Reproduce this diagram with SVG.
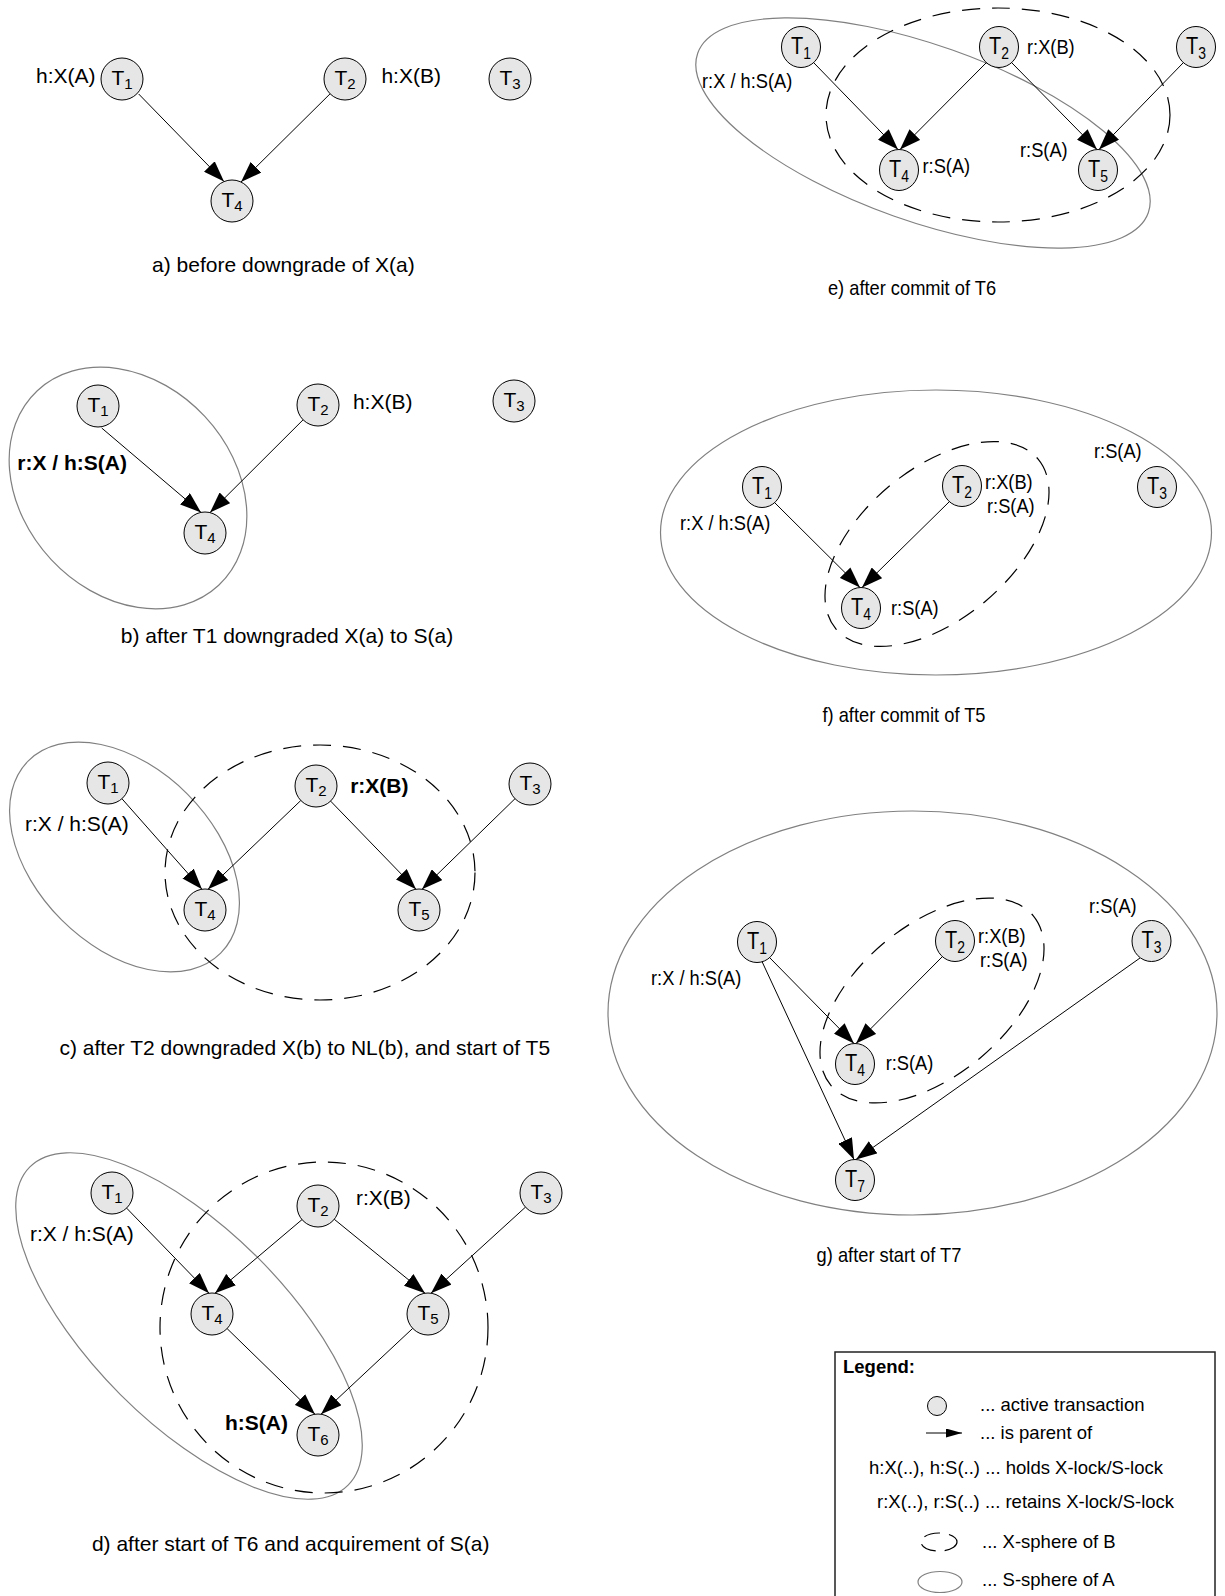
<svg xmlns="http://www.w3.org/2000/svg" width="1225" height="1596" viewBox="0 0 1225 1596">
<defs>
<marker id="ah" viewBox="0 0 21 15" refX="21" refY="7.5" markerWidth="21" markerHeight="15" markerUnits="userSpaceOnUse" orient="auto"><path d="M0,0 L21,7.5 L0,15 Z" fill="#000"/></marker>
<marker id="ahs" viewBox="0 0 16 9" refX="16" refY="4.5" markerWidth="16" markerHeight="9" markerUnits="userSpaceOnUse" orient="auto"><path d="M0,0 L16,4.5 L0,9 Z" fill="#000"/></marker>
</defs>
<style>
text{font-family:"Liberation Sans",Arial,sans-serif;fill:#000}
.lb{font-size:21px}
.bd{font-weight:bold}
.cap{font-size:21px;text-anchor:middle}
.t{font-size:21px;text-anchor:middle}
.tr{font-size:23px;text-anchor:middle}
.s{font-size:15px}
.sr{font-size:16px}
.n{fill:#e6e6e6;stroke:#000;stroke-width:1}
.e{stroke:#000;stroke-width:1;fill:none;marker-end:url(#ah)}
.ss{fill:none;stroke:#808080;stroke-width:1.2}
.xs{fill:none;stroke:#000;stroke-width:1.2;stroke-dasharray:18 12}
.lg{font-size:18.5px}
</style>
<rect width="1225" height="1596" fill="#fff"/>

<g id="spheres">
<ellipse class="ss" cx="128" cy="488" rx="133" ry="105" transform="rotate(47 128 488)"/>
<ellipse class="ss" cx="124.5" cy="857" rx="136" ry="89" transform="rotate(45 124.5 857)"/>
<ellipse class="xs" cx="320" cy="872.5" rx="155" ry="127.5"/>
<ellipse class="ss" cx="189" cy="1326" rx="225" ry="97" transform="rotate(45 189 1326)"/>
<ellipse class="xs" cx="324" cy="1327.5" rx="164" ry="165.5"/>
<ellipse class="ss" cx="923" cy="133" rx="239" ry="88" transform="rotate(19.5 923 133)"/>
<ellipse class="xs" cx="998" cy="115" rx="172" ry="107"/>
<ellipse class="ss" cx="936" cy="532.5" rx="275.5" ry="142.5"/>
<ellipse class="xs" cx="937" cy="544" rx="132" ry="75" transform="rotate(-40 937 544)"/>
<ellipse class="ss" cx="912.5" cy="1013" rx="304.5" ry="202"/>
<ellipse class="xs" cx="932" cy="1000.5" rx="132" ry="75" transform="rotate(-40 932 1000.5)"/>
</g>

<g id="connectors">
<path class="e" d="M138.7,94 L224,181.6"/>
<path class="e" d="M330.1,93.8 L241,182"/>
<path class="e" d="M101.7,428 L201,512.4"/>
<path class="e" d="M303.1,419.8 L210,512.6"/>
<path class="e" d="M121.9,798.7 L202,889.3"/>
<path class="e" d="M300.8,800.5 L208,889.3"/>
<path class="e" d="M330.6,801.1 L416,889.3"/>
<path class="e" d="M515,798.7 L422,889.3"/>
<path class="e" d="M126.6,1208.1 L209,1293.2"/>
<path class="e" d="M302,1219.6 L215,1293.2"/>
<path class="e" d="M334.3,1219.3 L425,1293.2"/>
<path class="e" d="M525.5,1207.1 L431,1293.2"/>
<path class="e" d="M227.1,1328.6 L315,1414.2"/>
<path class="e" d="M412.7,1328.4 L321,1414.2"/>
<path class="e" d="M814,63 L898,149.5"/>
<path class="e" d="M986,63 L900,149.5"/>
<path class="e" d="M1012,63 L1097,149.5"/>
<path class="e" d="M1183,63 L1099,149.5"/>
<path class="e" d="M775,503 L860,587.5"/>
<path class="e" d="M949,502 L862,587.5"/>
<path class="e" d="M770,958 L854,1043.5"/>
<path class="e" d="M942,957 L856,1043.5"/>
<path class="e" d="M762,961.5 L854,1159.5"/>
<path class="e" d="M1140,958 L856,1159.5"/>
</g>

<!-- panel a -->
<g id="a-T1"><circle class="n" cx="122" cy="79" r="21"/><text class="t" x="122" y="85">T<tspan class="s" dy="4">1</tspan></text></g>
<g id="a-T2"><circle class="n" cx="345" cy="79" r="21"/><text class="t" x="345" y="85">T<tspan class="s" dy="4">2</tspan></text></g>
<g id="a-T3"><circle class="n" cx="510" cy="79" r="21"/><text class="t" x="510" y="85">T<tspan class="s" dy="4">3</tspan></text></g>
<g id="a-T4"><circle class="n" cx="232" cy="201" r="21"/><text class="t" x="232" y="207">T<tspan class="s" dy="4">4</tspan></text></g>
<g id="a-labels">
<text class="lb" x="36" y="83">h:X(A)</text>
<text class="lb" x="381.4" y="83">h:X(B)</text>
<text class="cap" x="283.4" y="272">a) before downgrade of X(a)</text>
</g>

<!-- panel b -->
<g id="b-T1"><circle class="n" cx="98" cy="406" r="21"/><text class="t" x="98" y="412">T<tspan class="s" dy="4">1</tspan></text></g>
<g id="b-T2"><circle class="n" cx="318" cy="405" r="21"/><text class="t" x="318" y="411">T<tspan class="s" dy="4">2</tspan></text></g>
<g id="b-T3"><circle class="n" cx="514" cy="401" r="21"/><text class="t" x="514" y="407">T<tspan class="s" dy="4">3</tspan></text></g>
<g id="b-T4"><circle class="n" cx="205" cy="533" r="21"/><text class="t" x="205" y="539">T<tspan class="s" dy="4">4</tspan></text></g>
<g id="b-labels">
<text class="lb bd" x="17.3" y="470">r:X / h:S(A)</text>
<text class="lb" x="352.9" y="409">h:X(B)</text>
<text class="cap" x="287" y="643">b) after T1 downgraded X(a) to S(a)</text>
</g>

<!-- panel c -->
<g id="c-T1"><circle class="n" cx="108" cy="783" r="21"/><text class="t" x="108" y="789">T<tspan class="s" dy="4">1</tspan></text></g>
<g id="c-T2"><circle class="n" cx="316" cy="786" r="21"/><text class="t" x="316" y="792">T<tspan class="s" dy="4">2</tspan></text></g>
<g id="c-T3"><circle class="n" cx="530" cy="784" r="21"/><text class="t" x="530" y="790">T<tspan class="s" dy="4">3</tspan></text></g>
<g id="c-T4"><circle class="n" cx="205" cy="910" r="21"/><text class="t" x="205" y="916">T<tspan class="s" dy="4">4</tspan></text></g>
<g id="c-T5"><circle class="n" cx="419" cy="910" r="21"/><text class="t" x="419" y="916">T<tspan class="s" dy="4">5</tspan></text></g>
<g id="c-labels">
<text class="lb" x="25" y="831">r:X / h:S(A)</text>
<text class="lb bd" x="350.2" y="793">r:X(B)</text>
<text class="cap" x="304.8" y="1055">c) after T2 downgraded X(b) to NL(b), and start of T5</text>
</g>

<!-- panel d -->
<g id="d-T1"><circle class="n" cx="112" cy="1193" r="21"/><text class="t" x="112" y="1199">T<tspan class="s" dy="4">1</tspan></text></g>
<g id="d-T2"><circle class="n" cx="318" cy="1206" r="21"/><text class="t" x="318" y="1212">T<tspan class="s" dy="4">2</tspan></text></g>
<g id="d-T3"><circle class="n" cx="541" cy="1193" r="21"/><text class="t" x="541" y="1199">T<tspan class="s" dy="4">3</tspan></text></g>
<g id="d-T4"><circle class="n" cx="212" cy="1314" r="21"/><text class="t" x="212" y="1320">T<tspan class="s" dy="4">4</tspan></text></g>
<g id="d-T5"><circle class="n" cx="428" cy="1314" r="21"/><text class="t" x="428" y="1320">T<tspan class="s" dy="4">5</tspan></text></g>
<g id="d-T6"><circle class="n" cx="318" cy="1435" r="21"/><text class="t" x="318" y="1441">T<tspan class="s" dy="4">6</tspan></text></g>
<g id="d-labels">
<text class="lb" x="29.9" y="1241">r:X / h:S(A)</text>
<text class="lb" x="355.9" y="1205">r:X(B)</text>
<text class="lb bd" x="225" y="1430">h:S(A)</text>
<text class="cap" x="290.7" y="1551">d) after start of T6 and acquirement of S(a)</text>
</g>

<!-- panel e -->
<g id="e-T1"><ellipse class="n" cx="801" cy="47" rx="19.5" ry="20.5"/><text class="tr" transform="translate(801 54) scale(0.87 1)">T<tspan class="sr" dy="5">1</tspan></text></g>
<g id="e-T2"><ellipse class="n" cx="999" cy="47" rx="19.5" ry="20.5"/><text class="tr" transform="translate(999 54) scale(0.87 1)">T<tspan class="sr" dy="5">2</tspan></text></g>
<g id="e-T3"><ellipse class="n" cx="1196" cy="47" rx="19.5" ry="20.5"/><text class="tr" transform="translate(1196 54) scale(0.87 1)">T<tspan class="sr" dy="5">3</tspan></text></g>
<g id="e-T4"><ellipse class="n" cx="899" cy="170" rx="19.5" ry="20.5"/><text class="tr" transform="translate(899 177) scale(0.87 1)">T<tspan class="sr" dy="5">4</tspan></text></g>
<g id="e-T5"><ellipse class="n" cx="1098" cy="170" rx="19.5" ry="20.5"/><text class="tr" transform="translate(1098 177) scale(0.87 1)">T<tspan class="sr" dy="5">5</tspan></text></g>
<g id="e-labels">
<text class="lb" transform="translate(1027 54) scale(0.87 1)">r:X(B)</text>
<text class="lb" transform="translate(702 88) scale(0.87 1)">r:X / h:S(A)</text>
<text class="lb" transform="translate(922.5 173) scale(0.87 1)">r:S(A)</text>
<text class="lb" transform="translate(1020 157) scale(0.87 1)">r:S(A)</text>
<text class="cap" transform="translate(912 295) scale(0.87 1)">e) after commit of T6</text>
</g>

<!-- panel f -->
<g id="f-T1"><ellipse class="n" cx="762" cy="487" rx="19.5" ry="20.5"/><text class="tr" transform="translate(762 494) scale(0.87 1)">T<tspan class="sr" dy="5">1</tspan></text></g>
<g id="f-T2"><ellipse class="n" cx="962" cy="486" rx="19.5" ry="20.5"/><text class="tr" transform="translate(962 493) scale(0.87 1)">T<tspan class="sr" dy="5">2</tspan></text></g>
<g id="f-T3"><ellipse class="n" cx="1157" cy="487" rx="19.5" ry="20.5"/><text class="tr" transform="translate(1157 494) scale(0.87 1)">T<tspan class="sr" dy="5">3</tspan></text></g>
<g id="f-T4"><ellipse class="n" cx="861" cy="608" rx="19.5" ry="20.5"/><text class="tr" transform="translate(861 615) scale(0.87 1)">T<tspan class="sr" dy="5">4</tspan></text></g>
<g id="f-labels">
<text class="lb" transform="translate(985 489) scale(0.87 1)">r:X(B)</text>
<text class="lb" transform="translate(987 513) scale(0.87 1)">r:S(A)</text>
<text class="lb" transform="translate(680 530) scale(0.87 1)">r:X / h:S(A)</text>
<text class="lb" transform="translate(891 615) scale(0.87 1)">r:S(A)</text>
<text class="lb" transform="translate(1094 458) scale(0.87 1)">r:S(A)</text>
<text class="cap" transform="translate(904 722) scale(0.87 1)">f) after commit of T5</text>
</g>

<!-- panel g -->
<g id="g-T1"><ellipse class="n" cx="757" cy="942" rx="19.5" ry="20.5"/><text class="tr" transform="translate(757 949) scale(0.87 1)">T<tspan class="sr" dy="5">1</tspan></text></g>
<g id="g-T2"><ellipse class="n" cx="955" cy="941" rx="19.5" ry="20.5"/><text class="tr" transform="translate(955 948) scale(0.87 1)">T<tspan class="sr" dy="5">2</tspan></text></g>
<g id="g-T3"><ellipse class="n" cx="1151.5" cy="941" rx="19.5" ry="20.5"/><text class="tr" transform="translate(1151.5 948) scale(0.87 1)">T<tspan class="sr" dy="5">3</tspan></text></g>
<g id="g-T4"><ellipse class="n" cx="855" cy="1064" rx="19.5" ry="20.5"/><text class="tr" transform="translate(855 1071) scale(0.87 1)">T<tspan class="sr" dy="5">4</tspan></text></g>
<g id="g-T7"><ellipse class="n" cx="855" cy="1180" rx="19.5" ry="20.5"/><text class="tr" transform="translate(855 1187) scale(0.87 1)">T<tspan class="sr" dy="5">7</tspan></text></g>
<g id="g-labels">
<text class="lb" transform="translate(978 943) scale(0.87 1)">r:X(B)</text>
<text class="lb" transform="translate(980 967) scale(0.87 1)">r:S(A)</text>
<text class="lb" transform="translate(651 985) scale(0.87 1)">r:X / h:S(A)</text>
<text class="lb" transform="translate(885.7 1070) scale(0.87 1)">r:S(A)</text>
<text class="lb" transform="translate(1089 913) scale(0.87 1)">r:S(A)</text>
<text class="cap" transform="translate(889 1262) scale(0.87 1)">g) after start of T7</text>
</g>

<!-- legend -->
<g id="legend">
<rect x="835" y="1352" width="380" height="260" fill="none" stroke="#222" stroke-width="1.5"/>
<text class="lg bd" x="843" y="1373">Legend:</text>
<circle class="n" cx="937" cy="1406" r="9.5"/>
<text class="lg" x="980" y="1411">... active transaction</text>
<line x1="926" y1="1433" x2="962" y2="1433" stroke="#000" stroke-width="1" marker-end="url(#ahs)"/>
<text class="lg" x="980" y="1439">... is parent of</text>
<text class="lg" x="869" y="1474">h:X(..), h:S(..) ... holds X-lock/S-lock</text>
<text class="lg" x="877" y="1508">r:X(..), r:S(..) ... retains X-lock/S-lock</text>
<ellipse cx="939" cy="1542" rx="18" ry="9" fill="none" stroke="#000" stroke-width="1.2" stroke-dasharray="16 9"/>
<text class="lg" x="982" y="1548">... X-sphere of B</text>
<ellipse class="ss" cx="940" cy="1582" rx="22" ry="10.5"/>
<text class="lg" x="982" y="1586">... S-sphere of A</text>
</g>
</svg>
